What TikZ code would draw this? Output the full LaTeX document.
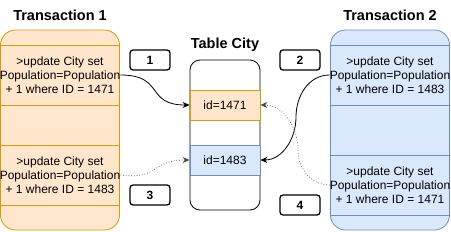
\documentclass[tikz,border=0pt]{standalone}
\usepackage{fontspec}
\setmainfont{Liberation Sans}
\usetikzlibrary{arrows.meta}
\definecolor{ofill}{HTML}{FFE6CC}
\definecolor{ostroke}{HTML}{D79B00}
\definecolor{bfill}{HTML}{DAE8FC}
\definecolor{bstroke}{HTML}{6C8EBF}
\begin{document}
\begin{tikzpicture}[x=1pt,y=-1pt,
  txt/.style={font=\fontsize{12}{14}\selectfont,align=center,inner sep=0pt,minimum width=120pt,minimum height=60pt},
  ttl/.style={font=\fontsize{14.5}{16}\selectfont\bfseries,inner sep=0pt},
  numbox/.style={draw,line width=1.3pt,rounded corners=3pt,minimum width=40pt,minimum height=20pt,inner sep=0pt,font=\fontsize{12}{14}\selectfont\bfseries},
  rowbox/.style={draw,line width=0.8pt,minimum width=70pt,minimum height=30pt,inner sep=0pt,font=\fontsize{12}{14}\selectfont},
  arr/.style={-{Stealth[length=7pt,width=6pt]},line width=0.8pt},
  darr/.style={-{Stealth[length=7pt,width=6pt]},line width=0.7pt,dotted,black!70}
]
\useasboundingbox (0,0) rectangle (451,231);
% Transaction 1
\node[ttl] (t1title) at (60,15) {Transaction 1};
\draw[fill=ofill,draw=ostroke,line width=0.8pt,rounded corners=15pt] (0.5,30) rectangle (119.5,230);
\draw[ostroke,line width=0.8pt] (0.5,45) -- (119.5,45) (0.5,105) -- (119.5,105) (0.5,145) -- (119.5,145) (0.5,205) -- (119.5,205);
\node[txt] (t1a) at (60,75) {>update City set\\Population=Population\\+ 1 where ID = 1471};
\node[txt] (t1b) at (60,175) {>update City set\\Population=Population\\+ 1 where ID = 1483};
% Transaction 2
\node[ttl] (t2title) at (390,15) {Transaction 2};
\draw[fill=bfill,draw=bstroke,line width=0.8pt,rounded corners=15pt] (330.5,30) rectangle (449.5,230);
\draw[bstroke,line width=0.8pt] (330.5,45) -- (449.5,45) (330.5,105) -- (449.5,105) (330.5,155) -- (449.5,155) (330.5,215) -- (449.5,215);
\node[txt] (t2a) at (390,75) {>update City set\\Population=Population\\+ 1 where ID = 1483};
\node[txt] (t2b) at (390,185) {>update City set\\Population=Population\\+ 1 where ID = 1471};
% Table City
\node[ttl] (tctitle) at (225,45) {Table City};
\draw[line width=0.8pt,rounded corners=10pt] (190,60) rectangle (260,210);
\node[rowbox,fill=ofill,draw=ostroke] (r1) at (225,105) {id=1471};
\node[rowbox,fill=bfill,draw=bstroke] (r2) at (225,160) {id=1483};
% number boxes
\node[numbox] (n1) at (150,60) {1};
\node[numbox] (n3) at (150,195) {3};
\node[numbox] (n2) at (300,60) {2};
\node[numbox] (n4) at (300,205) {4};
% arrows
\draw[arr] (t1a.east) .. controls (165,75) and (145,105) .. (r1.west);
\draw[darr] (t1b.east) .. controls (160,180) and (150,160) .. (r2.west);
\draw[arr] (t2a.west) to[out=180,in=90] (296,117) to[out=-90,in=0] (r2.east);
\draw[darr] (t2b.west) to[out=180,in=-90] (298,150) to[out=90,in=0] (r1.east);
\end{tikzpicture}
\end{document}
